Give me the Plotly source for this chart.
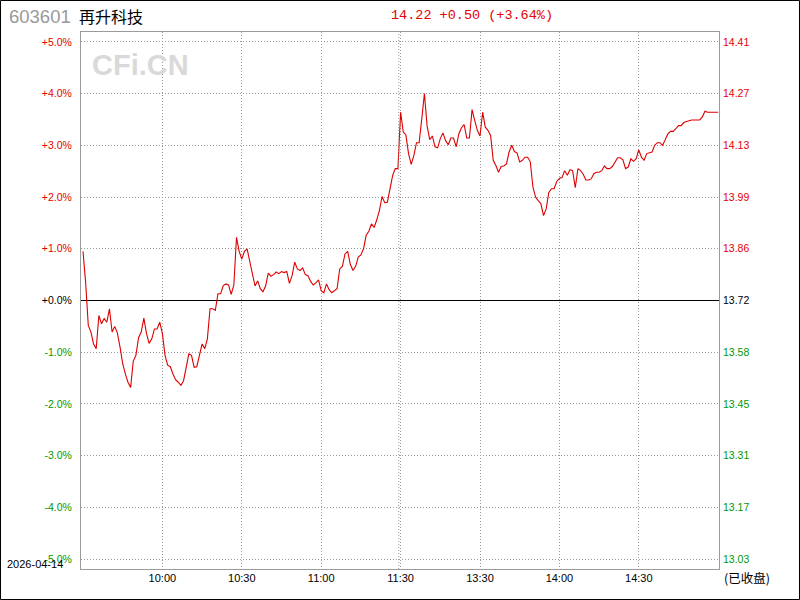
import plotly.graph_objects as go

# ---- data ----
stock_code = "603601"
stock_name = "再升科技"
quote_text = "14.22 +0.50 (+3.64%)"
trade_date = "2026-04-14"
status_text = "(已收盘)"

pct_left_labels = ["+5.0%", "+4.0%", "+3.0%", "+2.0%", "+1.0%", "+0.0%",
                   "-1.0%", "-2.0%", "-3.0%", "-4.0%", "-5.0%"]
price_right_labels = ["14.41", "14.27", "14.13", "13.99", "13.86", "13.72",
                      "13.58", "13.45", "13.31", "13.17", "13.03"]
pct_levels = [5, 4, 3, 2, 1, 0, -1, -2, -3, -4, -5]

time_labels = ["10:00", "10:30", "11:00", "11:30", "13:30", "14:00", "14:30"]
time_label_minutes = [30, 60, 90, 120, 150, 180, 210]

# percent change vs previous close, one value per trading minute (9:30 .. 15:00)
pct_change = [
    0.95, 0.35, -0.48, -0.61, -0.84, -0.93, -0.29, -0.45, -0.35, -0.42,
    -0.16, -0.61, -0.50, -0.63, -0.90, -1.22, -1.42, -1.58, -1.68, -1.17,
    -1.06, -0.72, -0.61, -0.34, -0.64, -0.83, -0.74, -0.55, -0.55, -0.42,
    -0.64, -1.06, -1.25, -1.28, -1.42, -1.53, -1.58, -1.64, -1.55, -1.32,
    -1.03, -1.06, -1.29, -1.28, -1.06, -0.84, -0.93, -0.74, -0.16, -0.16,
    -0.19, 0.13, 0.13, 0.29, 0.32, 0.30, 0.12, 0.30, 1.22, 0.95,
    0.80, 0.95, 1.00, 0.75, 0.52, 0.28, 0.38, 0.23, 0.17, 0.28,
    0.53, 0.47, 0.50, 0.55, 0.52, 0.56, 0.54, 0.56, 0.33, 0.48,
    0.74, 0.61, 0.58, 0.63, 0.50, 0.48, 0.37, 0.30, 0.34, 0.40,
    0.19, 0.15, 0.32, 0.21, 0.15, 0.20, 0.23, 0.61, 0.66, 0.90,
    0.95, 0.70, 0.58, 0.66, 0.84, 0.88, 1.00, 1.26, 1.34, 1.48,
    1.41, 1.56, 1.74, 2.01, 1.89, 1.90, 2.19, 2.42, 2.55, 2.55,
    3.64, 3.26, 3.20, 2.84, 2.63, 2.80, 3.05, 3.05, 3.51, 4.00,
    3.38, 3.11, 3.18, 2.97, 2.95, 3.13, 3.24, 3.09, 3.01, 3.14,
    3.14, 2.97, 3.22, 3.34, 3.40, 3.14, 3.14, 3.69, 3.48, 3.29,
    3.18, 3.64, 3.35, 3.29, 3.19, 2.71, 2.61, 2.48, 2.59, 2.60,
    2.64, 2.87, 3.00, 2.88, 2.85, 2.68, 2.71, 2.77, 2.77, 2.68,
    2.19, 2.00, 1.93, 1.87, 1.64, 1.77, 2.09, 2.16, 2.16, 2.30,
    2.36, 2.38, 2.51, 2.42, 2.53, 2.51, 2.18, 2.55, 2.51, 2.44,
    2.33, 2.33, 2.35, 2.45, 2.48, 2.48, 2.51, 2.60, 2.55, 2.55,
    2.59, 2.68, 2.76, 2.76, 2.72, 2.55, 2.58, 2.74, 2.69, 2.74,
    2.91, 2.77, 2.71, 2.84, 2.86, 2.87, 3.00, 3.05, 3.05, 3.00,
    3.11, 3.22, 3.27, 3.27, 3.32, 3.38, 3.38, 3.44, 3.46, 3.48,
    3.49, 3.49, 3.49, 3.49, 3.55, 3.66, 3.64, 3.64, 3.64, 3.64,
    3.64,
]
minutes = list(range(len(pct_change)))

RED = "#e60000"
GREEN = "#009900"
BLACK = "#000000"
GRID = "#9a9a9a"


def colour_for(level):
    if level > 0:
        return RED
    if level < 0:
        return GREEN
    return BLACK


left_ticktext = [f'<span style="color:{colour_for(v)}">{t}</span>'
                 for v, t in zip(pct_levels, pct_left_labels)]
right_ticktext = [f'<span style="color:{colour_for(v)}">{t}</span>'
                  for v, t in zip(pct_levels, price_right_labels)]

Y_RANGE = [-5.19, 5.19]
X_RANGE = [-0.75, 240.3]

fig = go.Figure()
fig.add_trace(go.Scatter(
    x=minutes, y=pct_change, mode="lines",
    line=dict(color="#dd0000", width=1.1),
    hoverinfo="skip", showlegend=False,
))
# invisible trace to attach the right-hand price axis
fig.add_trace(go.Scatter(
    x=[minutes[0]], y=[pct_change[0]], yaxis="y2", mode="markers",
    marker=dict(opacity=0), hoverinfo="skip", showlegend=False,
))

axis_font = dict(family="Liberation Sans, Arial, sans-serif", size=10.5, color=BLACK)

fig.update_layout(
    width=800, height=600, autosize=False,
    margin=dict(l=81, r=81, t=32, b=31, pad=0),
    paper_bgcolor="white", plot_bgcolor="white",
    showlegend=False,
    xaxis=dict(
        range=X_RANGE, tickmode="array",
        tickvals=time_label_minutes, ticktext=time_labels,
        showgrid=True, gridcolor=GRID, gridwidth=1, griddash="1px,2px",
        zeroline=False, showline=True, linecolor=GRID, linewidth=1, mirror=True,
        ticks="", tickfont=dict(family="Liberation Sans, Arial, sans-serif", size=11, color=BLACK),
        ticklabelstandoff=-1, fixedrange=True,
    ),
    yaxis=dict(
        range=Y_RANGE, tickmode="array",
        tickvals=pct_levels, ticktext=left_ticktext,
        showgrid=True, gridcolor=GRID, gridwidth=1, griddash="1px,2px",
        zeroline=True, zerolinecolor=BLACK, zerolinewidth=1,
        showline=True, linecolor=GRID, linewidth=1, mirror=True,
        ticks="", tickfont=axis_font, ticklabelstandoff=6, fixedrange=True,
    ),
    yaxis2=dict(
        range=Y_RANGE, overlaying="y", side="right", tickmode="array",
        tickvals=pct_levels, ticktext=right_ticktext,
        showgrid=False, zeroline=False, showline=False,
        ticks="", tickfont=axis_font, ticklabelstandoff=3, fixedrange=True,
    ),
)

# extra dotted line at the lunch break (11:30 / 13:00 double line)
fig.add_shape(type="line", xref="x", yref="paper", x0=119.3, x1=119.3, y0=0, y1=1,
              line=dict(color=GRID, width=1, dash="1px,2px"))

# outer black frame of the picture
PW, PH = 638.0, 537.0
fig.add_shape(type="rect", xref="paper", yref="paper",
              x0=(0.5 - 81) / PW, x1=(799.5 - 81) / PW,
              y0=-(30.5) / PH, y1=(569 - 0.5) / PH,
              line=dict(color=BLACK, width=1), fillcolor="rgba(0,0,0,0)", layer="above")

# watermark
fig.add_annotation(xref="paper", yref="paper", x=(90 - 81) / PW, y=(569 - 65) / PH,
                   xanchor="left", yanchor="middle", showarrow=False,
                   text="<b>CFi.CN</b>",
                   font=dict(family="Liberation Sans, Arial, sans-serif", size=29, color="#d9d9d9"))

# titles
fig.add_annotation(xref="paper", yref="paper", x=(7 - 81) / PW, y=(569 - 16) / PH,
                   xanchor="left", yanchor="middle", showarrow=False, text=stock_code,
                   font=dict(family="Liberation Sans, Arial, sans-serif", size=18.5, color="#999999"))
fig.add_annotation(xref="paper", yref="paper", x=(77 - 81) / PW, y=(569 - 16) / PH,
                   xanchor="left", yanchor="middle", showarrow=False, text=stock_name,
                   font=dict(family="Noto Sans CJK SC, sans-serif", size=16, color=BLACK))
fig.add_annotation(xref="paper", yref="paper", x=(472 - 81) / PW, y=(569 - 15) / PH,
                   xanchor="center", yanchor="middle", showarrow=False, text=quote_text,
                   font=dict(family="Liberation Mono, DejaVu Sans Mono, monospace", size=13.5, color=RED))

# date and market-status texts
fig.add_annotation(xref="paper", yref="paper", x=(5 - 81) / PW, y=(569 - 564) / PH,
                   xanchor="left", yanchor="middle", showarrow=False, text=trade_date,
                   font=dict(family="Liberation Sans, Arial, sans-serif", size=11, color=BLACK))
fig.add_annotation(xref="paper", yref="paper", x=(722 - 81) / PW, y=(569 - 577) / PH,
                   xanchor="left", yanchor="middle", showarrow=False, text=status_text,
                   font=dict(family="Noto Sans CJK SC, sans-serif", size=12.5, color=BLACK))

fig.write_html("out.html",
               config={"displayModeBar": False},
               post_script="document.body.style.margin='0';document.body.style.overflow='hidden';")
